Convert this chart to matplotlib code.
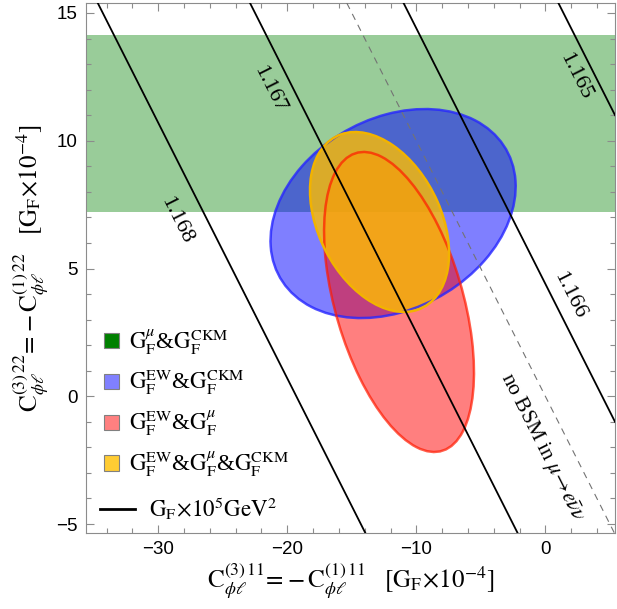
import numpy as np
import matplotlib
matplotlib.use("Agg")
from matplotlib import pyplot as plt
from matplotlib.patches import Ellipse, Patch
from matplotlib.lines import Line2D
from matplotlib.ticker import MultipleLocator

plt.rcParams['mathtext.fontset'] = 'stix'
plt.rcParams['font.family'] = ['Liberation Sans', 'DejaVu Sans']

# axis ranges, C11 and C22 in units of G_F x 1e-4
XLIM = (-35.6, 5.4)
YLIM = (-5.35, 15.39)

# G_F^mu & G_F^CKM band (C22 only)
band_lo, band_hi = 7.2, 14.15

# 1 sigma regions: centre, half extent in x and y, correlation
region_names = ['EW_CKM', 'EW_mu', 'EW_mu_CKM']
cx = [-11.8, -11.34, -12.85]
cy = [7.15, 3.69, 6.82]
hx = [9.5, 5.81, 5.39]
hy = [4.09, 5.87, 3.52]
rho = [0.26, -0.47, -0.35]
face = [(0, 0, 1, 0.5), (1, 0, 0, 0.5), (1, 0.745, 0, 0.8)]
edge = [(0.15, 0.15, 1, 0.8), (1, 0.1, 0, 0.7), (0.95, 0.7, 0, 1)]

# G_F contours: C11 + C22 = const
gf_values = ['1.168', '1.167', '1.166', '1.165']
gf_const = [-19.3, -7.5, 4.4, 16.4]
label_x = [-28.6, -21.4, 1.9, 2.3]
label_y = [6.9, 12.0, 3.96, 12.5]

GF = r'$\mathrm{G}_\mathrm{F}^{%s}$'
legend_labels = [
    GF % r'\mu' + '&' + GF % r'\mathrm{CKM}',
    GF % r'\mathrm{EW}' + '&' + GF % r'\mathrm{CKM}',
    GF % r'\mathrm{EW}' + '&' + GF % r'\mu',
    GF % r'\mathrm{EW}' + '&' + GF % r'\mu' + '&' + GF % r'\mathrm{CKM}',
]
legend_swatch = [(0, 0.5, 0), (0.5, 0.5, 1), (1, 0.5, 0.5), (1, 0.8, 0.2)]


def cov_ellipse(x0, y0, sx, sy, r):
    cov = np.array([[sx**2, r*sx*sy], [r*sx*sy, sy**2]])
    vals, vecs = np.linalg.eigh(cov)
    ang = np.degrees(np.arctan2(vecs[1, 1], vecs[0, 1]))
    return (x0, y0), 2*np.sqrt(vals[1]), 2*np.sqrt(vals[0]), ang


fig = plt.figure(figsize=(6.17, 6.09), dpi=100)
ax = fig.add_axes([0.1394, 0.1248, 0.8574, 0.8703])
ax.set_xlim(*XLIM)
ax.set_ylim(*YLIM)

ax.axhspan(band_lo, band_hi, color=(0, 0.5, 0), alpha=0.4, lw=0, zorder=1)

# fills first, outlines afterwards
shapes = []
for i in range(len(region_names)):
    c, w, h, a = cov_ellipse(cx[i], cy[i], hx[i], hy[i], rho[i])
    ax.add_patch(Ellipse(c, w, h, angle=a, facecolor=face[i], lw=0, zorder=2))
    shapes.append((c, w, h, a))
for i, (c, w, h, a) in enumerate(shapes):
    ax.add_patch(Ellipse(c, w, h, angle=a, facecolor='none',
                         edgecolor=edge[i], lw=1.8, zorder=3))

for c in gf_const:
    ax.axline((c, 0), slope=-1, color='black', lw=1.3, zorder=4)
ax.axline((0, 0), slope=-1, color='0.45', lw=0.8, ls=(0, (6, 5)), zorder=4)

for t, x, y in zip(gf_values, label_x, label_y):
    ax.text(x, y, t, rotation=-45, transform_rotates_text=True,
            ha='center', va='center', rotation_mode='anchor',
            fontsize=16, family='Liberation Serif', zorder=5)
ax.text(-0.33, -2.0, r'no BSM in $\mu\!\rightarrow\!e\bar{\nu}\nu$',
        rotation=-45, transform_rotates_text=True, ha='center', va='center',
        rotation_mode='anchor', fontsize=15.5, family='Liberation Serif', zorder=5)

handles = [Patch(facecolor=c, edgecolor='0.5', lw=0.8) for c in legend_swatch]
leg1 = ax.legend(handles, legend_labels, loc='upper left',
                 bbox_to_anchor=(0.017, 0.405), frameon=False,
                 prop={'family': 'Liberation Serif', 'size': 16.5},
                 handlelength=0.65, handleheight=0.65, handletextpad=0.45,
                 labelspacing=0.5, borderaxespad=0)
ax.add_artist(leg1)
ax.legend([Line2D([], [], color='black', lw=2)],
          [r'$\mathrm{G}_\mathrm{F}\!\times\!10^5\mathrm{GeV}^2$'],
          loc='center left', bbox_to_anchor=(0.01, 0.047), frameon=False,
          prop={'family': 'Liberation Serif', 'size': 16.5},
          handlelength=1.5, handletextpad=0.6, borderaxespad=0)

ax.xaxis.set_major_locator(MultipleLocator(10))
ax.xaxis.set_minor_locator(MultipleLocator(2))
ax.yaxis.set_major_locator(MultipleLocator(5))
ax.yaxis.set_minor_locator(MultipleLocator(1))
ax.tick_params(which='both', direction='in', top=True, right=True,
               color='0.55', labelsize=13.5, pad=6)
ax.tick_params(which='major', length=6, width=0.8)
ax.tick_params(which='minor', length=3.5, width=0.8)
for s in ax.spines.values():
    s.set_color('0.55')

ax.set_xlabel(r'$\mathrm{C}_{\phi\ell}^{(3)\,11}\!=\!-\mathrm{C}_{\phi\ell}^{(1)\,11}\quad[\mathrm{G}_\mathrm{F}\!\times\!10^{-4}]$',
              fontsize=18, labelpad=2)
ax.set_ylabel(r'$\mathrm{C}_{\phi\ell}^{(3)\,22}\!=\!-\mathrm{C}_{\phi\ell}^{(1)\,22}\quad[\mathrm{G}_\mathrm{F}\!\times\!10^{-4}]$',
              fontsize=18, labelpad=4)

fig.savefig('out.png', dpi=100)
